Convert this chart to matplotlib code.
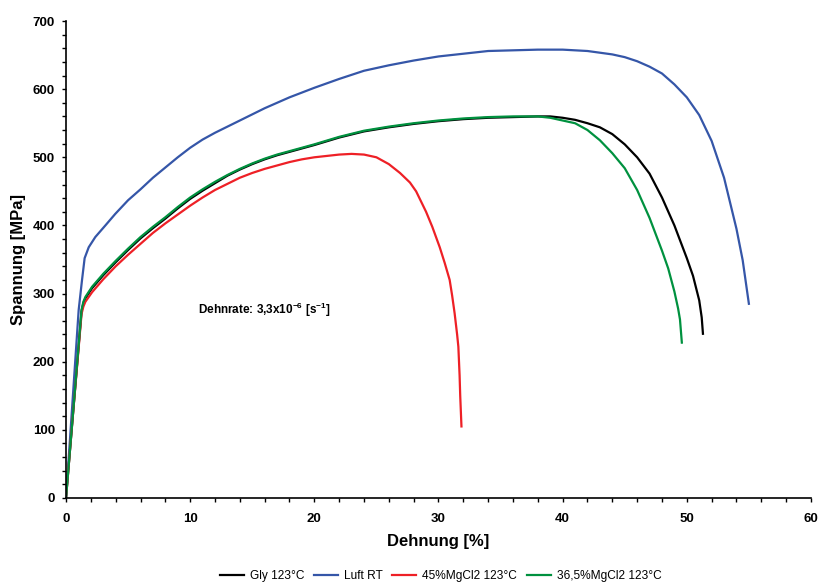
import matplotlib
matplotlib.use('Agg')
import matplotlib.pyplot as plt
from matplotlib.ticker import MultipleLocator

plt.rcParams['font.family'] = ['Liberation Sans', 'DejaVu Sans']
plt.rcParams['mathtext.fontset'] = 'custom'
plt.rcParams['mathtext.rm'] = 'Liberation Sans:bold'
plt.rcParams['mathtext.bf'] = 'Liberation Sans:bold'

# Luft RT
luft_x = [0, 0.5, 1.02, 1.29, 1.5, 1.83, 2.36, 3.17, 3.97, 5, 6, 7, 8, 9, 10, 11, 12, 13,
          14, 15, 16, 17, 18, 19, 20, 22, 24, 26, 28, 30, 32, 34, 36, 38, 40, 42, 44, 45,
          46, 47, 48, 49, 50, 51, 52, 53, 54, 54.5, 55.0]
luft_y = [0, 135, 276, 320, 352, 368, 383, 400, 417, 437, 453, 470, 485, 500, 514, 526,
          536, 545, 554, 563, 572, 580, 588, 595, 602, 615, 627, 635, 642, 648, 652, 656,
          657, 658, 658, 656, 651, 647, 641, 633, 623, 607, 588, 562, 524, 470, 395, 349, 285]

# Gly 123°C
gly_x = [0, 0.5, 1.25, 1.4, 1.56, 2.1, 3, 4, 5, 6, 7, 8, 9, 10, 11, 12, 13, 14, 15, 16,
         17, 18, 19, 20, 22, 24, 26, 28, 30, 32, 34, 36, 38, 39, 40, 41, 42, 43, 44, 45,
         46, 47, 48, 49, 50, 50.5, 51, 51.2, 51.3]
gly_y = [0, 110, 274, 286, 293, 308, 327, 346, 364, 381, 396, 410, 425, 439, 451, 462,
         473, 482, 490, 497, 503, 508, 513, 518, 529, 538, 544, 549, 553, 556, 558, 559,
         560, 560, 558, 555, 550, 544, 534, 519, 500, 476, 441, 400, 352, 326, 290, 265, 241]

# 45%MgCl2 123°C
mg45_x = [0, 0.5, 1.25, 1.4, 1.56, 2.1, 3, 4, 5, 6, 7, 8, 9, 10, 11, 12, 13, 14, 15, 16,
          17, 18, 19, 20, 21, 22, 23, 24, 25, 26, 26.9, 27.7, 28.2, 29.0, 29.5, 30.1,
          30.5, 30.9, 31.1, 31.3, 31.5, 31.6, 31.7, 31.75, 31.85]
mg45_y = [0, 110, 270, 281, 288, 302, 321, 340, 357, 373, 389, 403, 416, 429, 441, 452,
          461, 470, 477, 483, 488, 493, 497, 500, 502, 504, 505, 504, 500, 490, 477, 463,
          450, 420, 398, 368, 345, 320, 297, 271, 240, 222, 180, 150, 105]

# 36,5%MgCl2 123°C
mg365_x = [0, 0.5, 1.25, 1.4, 1.56, 2.1, 3, 4, 5, 6, 7, 8, 9, 10, 11, 12, 13, 14, 15, 16,
           17, 18, 19, 20, 22, 24, 26, 28, 30, 32, 34, 36, 38, 39, 40, 41, 42, 43, 44, 45,
           46, 47, 48, 48.5, 49, 49.3, 49.45, 49.6]
mg365_y = [0, 110, 276, 288, 295, 310, 329, 348, 366, 383, 398, 412, 427, 441, 453, 464,
           474, 483, 491, 498, 504, 509, 514, 519, 530, 539, 545, 550, 554, 557, 559, 560,
           560, 558, 554, 550, 540, 525, 506, 484, 452, 411, 363, 337, 303, 278, 262, 228]

fig = plt.figure(figsize=(8.18, 5.84), dpi=100)
ax = fig.add_axes([0.0807, 0.1473, 0.9107, 0.8167])

lw = 1.6
ax.plot(gly_x, gly_y, color='black', lw=lw, label='Gly 123°C')
ax.plot(luft_x, luft_y, color='#3556a8', lw=lw, label='Luft RT')
ax.plot(mg45_x, mg45_y, color='#ee2026', lw=lw, label='45%MgCl2 123°C')
ax.plot(mg365_x, mg365_y, color='#00913f', lw=lw, label='36,5%MgCl2 123°C')

ax.set_xlim(0, 60)
ax.set_ylim(0, 700)
ax.xaxis.set_major_locator(MultipleLocator(10))
ax.xaxis.set_minor_locator(MultipleLocator(2))
ax.yaxis.set_major_locator(MultipleLocator(100))
ax.yaxis.set_minor_locator(MultipleLocator(20))
ax.tick_params(which='both', direction='out', length=3, width=1, color='black')
ax.tick_params(axis='y', which='major', pad=5)
ax.tick_params(axis='x', which='major', pad=8)
for lab in ax.get_xticklabels() + ax.get_yticklabels():
    lab.set_fontweight('bold')
    lab.set_fontsize(9.5)

ax.spines['top'].set_visible(False)
ax.spines['right'].set_visible(False)
ax.spines['left'].set_linewidth(1.2)
ax.spines['bottom'].set_linewidth(1.2)

ax.set_xlabel('Dehnung [%]', fontsize=12, fontweight='bold', labelpad=6)
ax.set_ylabel('Spannung [MPa]', fontsize=12, fontweight='bold', labelpad=5)

ax.text(10.6, 276, r'Dehnrate: 3,3x10$^{-6}$ [s$^{-1}$]', fontsize=8.5,
        fontweight='bold', va='center', ha='left')

fig.legend(*ax.get_legend_handles_labels(), loc='center', bbox_to_anchor=(0.539, 0.014),
           ncol=4, frameon=False, fontsize=8.6, handlelength=2.0, columnspacing=0.8,
           handletextpad=0.5, borderpad=0.1)

fig.savefig('out.png', dpi=100)
